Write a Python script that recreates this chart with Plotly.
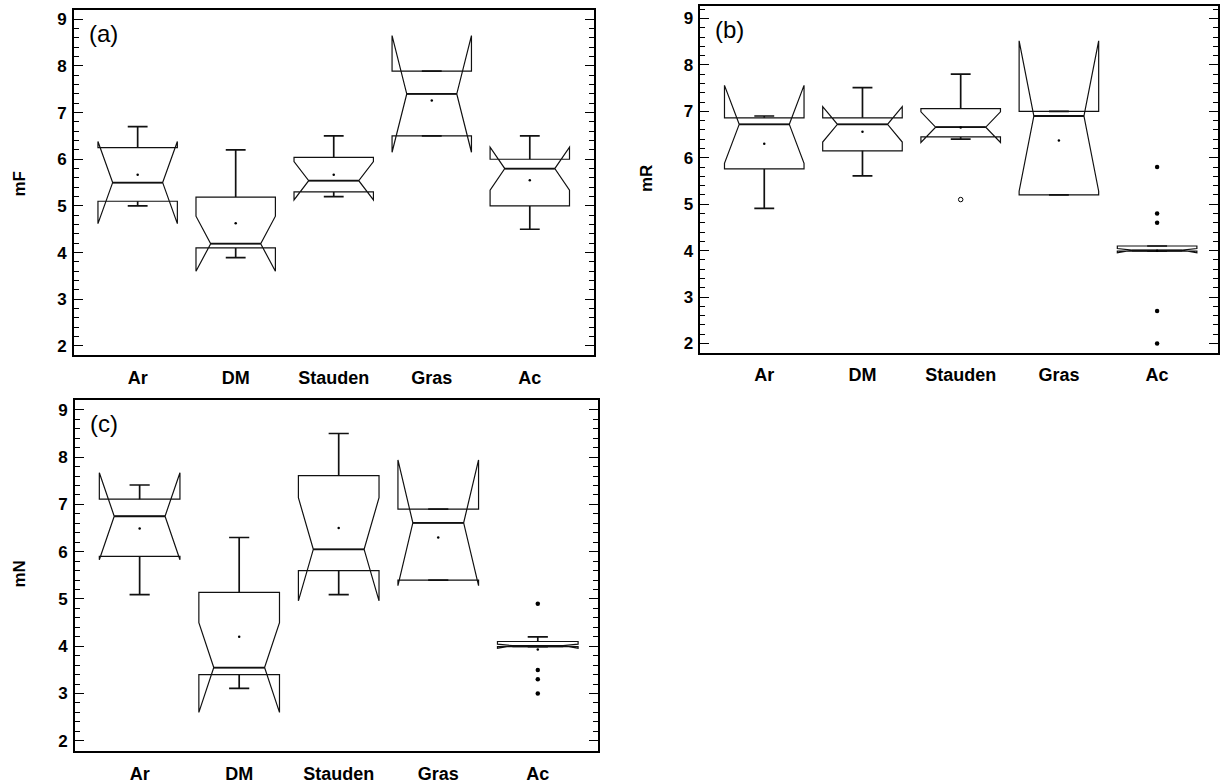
import plotly.graph_objects as go

W, H = 1220, 784

categories = ["Ar", "DM", "Stauden", "Gras", "Ac"]

# Panel (a): mF
a_q1 = [5.10, 4.10, 5.30, 6.50, 5.00]
a_median = [5.50, 4.19, 5.54, 7.40, 5.80]
a_q3 = [6.25, 5.19, 6.04, 7.89, 6.00]
a_lower = [5.00, 3.89, 5.20, 6.50, 4.50]
a_upper = [6.70, 6.20, 6.50, 7.89, 6.50]
a_notch = [0.88, 0.59, 0.41, 1.25, 0.46]
a_mean = [5.67, 4.63, 5.67, 7.26, 5.55]

# Panel (b): mR
b_q1 = [5.76, 6.15, 6.45, 5.20, 3.99]
b_median = [6.72, 6.72, 6.66, 6.90, 4.00]
b_q3 = [6.86, 6.86, 7.06, 7.00, 4.10]
b_lower = [4.91, 5.61, 6.40, 5.20, 3.99]
b_upper = [6.90, 7.51, 7.80, 7.00, 4.10]
b_notch = [0.84, 0.38, 0.33, 1.62, 0.045]
b_mean = [6.30, 6.56, 6.65, 6.37, 4.00]
b_out_cat = ["Ac", "Ac", "Ac", "Ac", "Ac"]
b_out_val = [5.8, 4.8, 4.6, 2.7, 2.0]
b_open_cat = ["Stauden"]
b_open_val = [5.1]

# Panel (c): mN
c_q1 = [5.90, 3.40, 5.60, 5.40, 3.99]
c_median = [6.75, 3.55, 6.05, 6.61, 4.00]
c_q3 = [7.11, 5.14, 7.61, 6.90, 4.10]
c_lower = [5.09, 3.11, 5.09, 5.40, 3.99]
c_upper = [7.41, 6.30, 8.50, 6.90, 4.20]
c_notch = [0.92, 0.95, 1.09, 1.33, 0.045]
c_mean = [6.49, 4.20, 6.50, 6.30, 3.93]
c_out_cat = ["Ac", "Ac", "Ac", "Ac"]
c_out_val = [4.9, 3.5, 3.3, 3.0]

y_ticks = [2, 3, 4, 5, 6, 7, 8, 9]
panel_letters = ["(a)", "(b)", "(c)"]
y_titles = ["mF", "mR", "mN"]

FONT = "Liberation Sans, Arial, sans-serif"
BOX_W = 0.81          # box width in category units
CAP = 0.25            # whisker cap width relative to box width
NOTCH_W = 0.185       # notch indent relative to box width

pos_of = {c: i for i, c in enumerate(categories)}
positions = [pos_of[c] for c in categories]

fig = go.Figure()

panels = [
    (a_q1, a_median, a_q3, a_lower, a_upper, a_notch, a_mean, "x", "y"),
    (b_q1, b_median, b_q3, b_lower, b_upper, b_notch, b_mean, "x2", "y2"),
    (c_q1, c_median, c_q3, c_lower, c_upper, c_notch, c_mean, "x3", "y3"),
]


def whisker_xy(q1, q3, lo, hi):
    hw = CAP * BOX_W / 2
    xs, ys = [], []
    for p, a, b, l, h in zip(positions, q1, q3, lo, hi):
        xs += [p, p, None, p - hw, p + hw, None, p, p, None, p - hw, p + hw, None]
        ys += [b, h, None, h, h, None, a, l, None, l, l, None]
    return xs, ys


def median_xy(med):
    hw = (1 - 2 * NOTCH_W) * BOX_W / 2
    xs, ys = [], []
    for p, m in zip(positions, med):
        xs += [p - hw, p + hw, None]
        ys += [m, m, None]
    return xs, ys


for q1, med, q3, lo, hi, nsp, mn, xa, ya in panels:
    fig.add_trace(go.Box(
        x=positions, q1=q1, median=med, q3=q3,
        lowerfence=q1, upperfence=q3, notchspan=nsp,
        notched=True, notchwidth=NOTCH_W, showwhiskers=False,
        width=BOX_W, boxpoints=False,
        line=dict(color="#111111", width=1.2),
        fillcolor="rgba(0,0,0,0)",
        xaxis=xa, yaxis=ya, showlegend=False, hoverinfo="skip",
    ))
    wx, wy = whisker_xy(q1, q3, lo, hi)
    fig.add_trace(go.Scatter(
        x=wx, y=wy, mode="lines", line=dict(color="#111111", width=1.7),
        xaxis=xa, yaxis=ya, showlegend=False, hoverinfo="skip",
    ))
    mx, my = median_xy(med)
    fig.add_trace(go.Scatter(
        x=mx, y=my, mode="lines", line=dict(color="#111111", width=1.8),
        xaxis=xa, yaxis=ya, showlegend=False, hoverinfo="skip",
    ))
    fig.add_trace(go.Scatter(
        x=positions, y=mn, mode="markers",
        marker=dict(color="black", size=2.5),
        xaxis=xa, yaxis=ya, showlegend=False, hoverinfo="skip",
    ))

fig.add_trace(go.Scatter(x=[pos_of[c] for c in b_out_cat], y=b_out_val, mode="markers",
                         marker=dict(color="black", size=4.5),
                         xaxis="x2", yaxis="y2", showlegend=False))
fig.add_trace(go.Scatter(x=[pos_of[c] for c in b_open_cat], y=b_open_val, mode="markers",
                         marker=dict(color="white", size=4.5,
                                     line=dict(color="black", width=1)),
                         xaxis="x2", yaxis="y2", showlegend=False))
fig.add_trace(go.Scatter(x=[pos_of[c] for c in c_out_cat], y=c_out_val, mode="markers",
                         marker=dict(color="black", size=4.5),
                         xaxis="x3", yaxis="y3", showlegend=False))

# pixel boxes of the three plot areas (left, right, top, bottom)
boxes = [(74, 594, 10, 358), (701, 1219, 6, 355.5), (75, 598, 403, 757)]
xranges = [[-0.65, 4.65], [-0.65, 4.62], [-0.65, 4.6]]
yranges = [[1.8, 9.2], [1.8, 9.27], [1.78, 9.21]]

layout = dict(
    width=W, height=H, margin=dict(l=0, r=0, t=0, b=0),
    paper_bgcolor="white", plot_bgcolor="white",
    font=dict(family=FONT, color="black"),
    boxmode="overlay",
)

annotations = []
for i, (l, r, t, b) in enumerate(boxes):
    sfx = "" if i == 0 else str(i + 1)
    layout["xaxis" + sfx] = dict(
        domain=[l / W, r / W], anchor="y" + sfx,
        tickvals=positions, ticktext=categories,
        range=xranges[i], showline=True, linecolor="black", linewidth=1.8,
        mirror=True, ticks="", showgrid=False, zeroline=False,
        tickfont=dict(size=18, family=FONT, weight="bold"),
        ticklabelstandoff=5,
    )
    layout["yaxis" + sfx] = dict(
        domain=[1 - b / H, 1 - t / H], anchor="x" + sfx,
        range=yranges[i], tickvals=y_ticks, showline=True,
        linecolor="black", linewidth=1.8, mirror="ticks",
        ticks="inside", ticklen=9, tickwidth=1.4, tickcolor="black",
        minor=dict(ticks="inside", ticklen=5, tickwidth=1, tickcolor="black",
                   dtick=0.2, tick0=2, showgrid=False),
        showgrid=False, zeroline=False,
        tickfont=dict(size=17, family=FONT, weight="bold"),
        ticklabelstandoff=2,
    )
    annotations.append(dict(
        x=(l + 13) / W, y=1 - (t + 24) / H, xref="paper", yref="paper",
        text=panel_letters[i], showarrow=False, xanchor="left", yanchor="middle",
        font=dict(size=24, family=FONT),
    ))

title_pos = [(20, 185), (647, 180), (20, 578)]
for i, (tx, ty) in enumerate(title_pos):
    annotations.append(dict(
        x=tx / W, y=1 - ty / H, xref="paper", yref="paper",
        text=y_titles[i], showarrow=False, textangle=-90,
        xanchor="center", yanchor="middle",
        font=dict(size=17, family=FONT, weight="bold"),
    ))

layout["annotations"] = annotations
fig.update_layout(**layout)
fig.write_html("out.html")
